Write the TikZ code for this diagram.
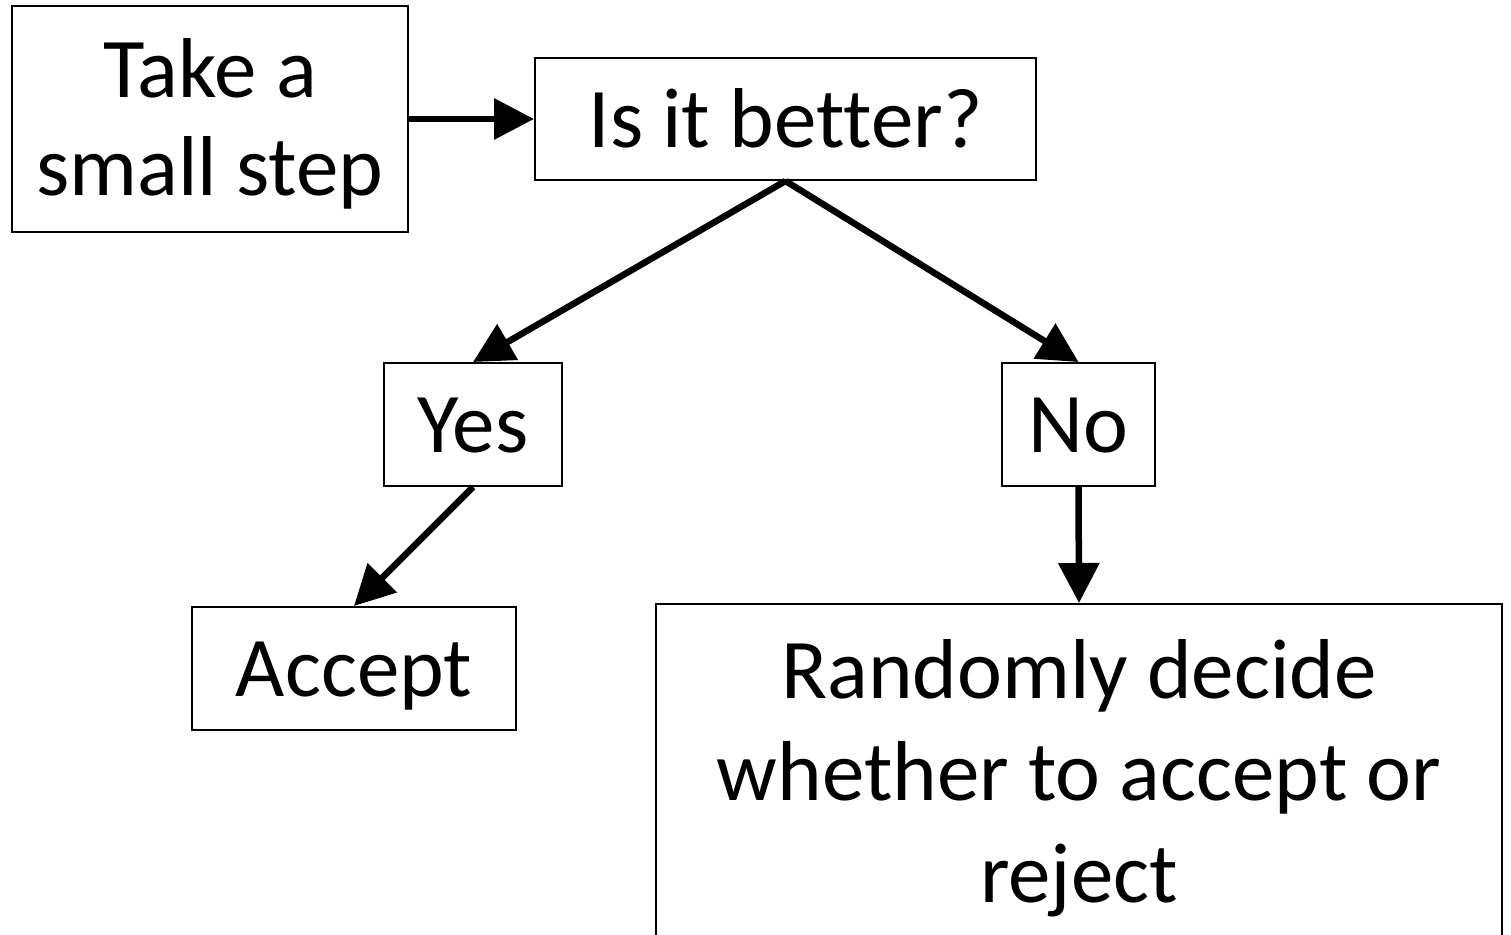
\documentclass[tikz,border=0pt]{standalone}
\usepackage{fontspec}
\setmainfont{Carlito}[Ligatures=NoCommon]
\usetikzlibrary{arrows.meta}
\tikzset{
  box/.style={draw=black, line width=2pt, align=center, inner sep=0pt,
              font=\fontsize{85}{98}\selectfont},
  oneline/.style={text height=70pt, text depth=14pt},
  flow/.style={line width=6.5pt, -{Triangle[length=40pt,width=40pt]}}
}
\begin{document}
\begin{tikzpicture}[x=1pt,y=-1pt]
  \useasboundingbox (0,0) rectangle (1511,934);
  \node[box, minimum width=396pt, minimum height=226pt,
        text height=170pt, text depth=18pt] (take) at (210,119) {Take a\\small step};
  \node[box, oneline, minimum width=501pt, minimum height=122pt] (better) at (785.5,119) {Is it better?};
  \node[box, oneline, minimum width=178pt, minimum height=123pt] (yes) at (473,424.5) {Yes};
  \node[box, oneline, minimum width=153pt, minimum height=123pt] (no) at (1078.5,424.5) {No};
  \node[box, oneline, minimum width=324pt, minimum height=123pt] (accept) at (354,668.5) {Accept};
  \node[box, font=\fontsize{85}{102}\selectfont, minimum width=846pt, minimum height=340pt,
        text height=280pt, text depth=24pt] (rand) at (1079,774)
    {Randomly decide\\whether to accept or\\reject};
  \draw[flow] (take.east) -- (better.west);
  \draw[flow] (better.south) -- (yes.north);
  \draw[flow] (better.south) -- (no.north);
  \draw[flow] (yes.south) -- (accept.north);
  \draw[flow] (no.south) -- (rand.north);
\end{tikzpicture}
\end{document}
